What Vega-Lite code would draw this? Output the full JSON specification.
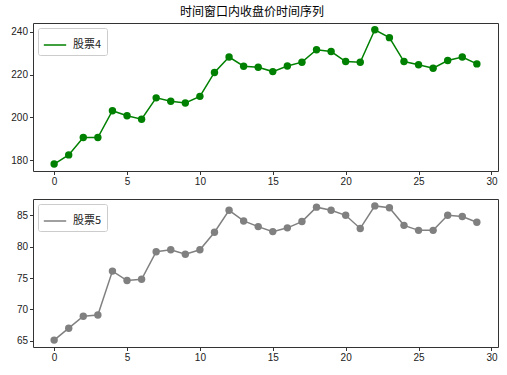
{
  "$schema": "https://vega.github.io/schema/vega-lite/v6.json",
  "padding": {"left": 5, "top": 5, "right": 8, "bottom": 2},
  "title": {"text": "时间窗口内收盘价时间序列", "fontSize": 12, "font": "Noto Sans CJK SC", "fontWeight": "normal", "color": "#000", "offset": 4, "anchor": "middle"},
  "config": {
    "font": "Noto Sans CJK SC",
    "view": {"stroke": "#333", "strokeWidth": 1},
    "axis": {"grid": false, "domain": false, "tickColor": "#333", "tickSize": 3.5, "labelFontSize": 10, "labelColor": "#222", "labelFont": "Liberation Sans", "title": null, "labelPadding": 2, "labelOverlap": false, "labelFlush": false},
    "axisY": {"minExtent": 27, "maxExtent": 27},
    "legend": {"orient": "top-left", "offset": 5, "padding": 5, "strokeColor": "#ccc", "fillColor": "#fff", "cornerRadius": 2, "symbolType": "stroke", "symbolSize": 500, "symbolStrokeWidth": 1.5, "labelFontSize": 11, "labelColor": "#222", "title": null, "labelOffset": 6}
  },
  "datasets": {
    "s4": [
      {"t": 0, "v": 178.1, "s": "股票4"}, {"t": 1, "v": 182.4, "s": "股票4"}, {"t": 2, "v": 190.5, "s": "股票4"}, {"t": 3, "v": 190.5, "s": "股票4"},
      {"t": 4, "v": 203.1, "s": "股票4"}, {"t": 5, "v": 200.7, "s": "股票4"}, {"t": 6, "v": 199.1, "s": "股票4"}, {"t": 7, "v": 209.1, "s": "股票4"},
      {"t": 8, "v": 207.5, "s": "股票4"}, {"t": 9, "v": 206.7, "s": "股票4"}, {"t": 10, "v": 209.8, "s": "股票4"}, {"t": 11, "v": 221.0, "s": "股票4"},
      {"t": 12, "v": 228.2, "s": "股票4"}, {"t": 13, "v": 223.9, "s": "股票4"}, {"t": 14, "v": 223.4, "s": "股票4"}, {"t": 15, "v": 221.4, "s": "股票4"},
      {"t": 16, "v": 224.0, "s": "股票4"}, {"t": 17, "v": 225.8, "s": "股票4"}, {"t": 18, "v": 231.6, "s": "股票4"}, {"t": 19, "v": 230.8, "s": "股票4"},
      {"t": 20, "v": 226.1, "s": "股票4"}, {"t": 21, "v": 225.8, "s": "股票4"}, {"t": 22, "v": 241.0, "s": "股票4"}, {"t": 23, "v": 237.3, "s": "股票4"},
      {"t": 24, "v": 226.1, "s": "股票4"}, {"t": 25, "v": 224.6, "s": "股票4"}, {"t": 26, "v": 223.0, "s": "股票4"}, {"t": 27, "v": 226.6, "s": "股票4"},
      {"t": 28, "v": 228.2, "s": "股票4"}, {"t": 29, "v": 225.0, "s": "股票4"}
    ],
    "s5": [
      {"t": 0, "v": 65.1, "s": "股票5"}, {"t": 1, "v": 67.0, "s": "股票5"}, {"t": 2, "v": 68.9, "s": "股票5"}, {"t": 3, "v": 69.1, "s": "股票5"},
      {"t": 4, "v": 76.1, "s": "股票5"}, {"t": 5, "v": 74.6, "s": "股票5"}, {"t": 6, "v": 74.8, "s": "股票5"}, {"t": 7, "v": 79.2, "s": "股票5"},
      {"t": 8, "v": 79.5, "s": "股票5"}, {"t": 9, "v": 78.8, "s": "股票5"}, {"t": 10, "v": 79.5, "s": "股票5"}, {"t": 11, "v": 82.3, "s": "股票5"},
      {"t": 12, "v": 85.8, "s": "股票5"}, {"t": 13, "v": 84.1, "s": "股票5"}, {"t": 14, "v": 83.2, "s": "股票5"}, {"t": 15, "v": 82.4, "s": "股票5"},
      {"t": 16, "v": 83.0, "s": "股票5"}, {"t": 17, "v": 84.0, "s": "股票5"}, {"t": 18, "v": 86.3, "s": "股票5"}, {"t": 19, "v": 85.8, "s": "股票5"},
      {"t": 20, "v": 85.0, "s": "股票5"}, {"t": 21, "v": 82.9, "s": "股票5"}, {"t": 22, "v": 86.5, "s": "股票5"}, {"t": 23, "v": 86.2, "s": "股票5"},
      {"t": 24, "v": 83.4, "s": "股票5"}, {"t": 25, "v": 82.6, "s": "股票5"}, {"t": 26, "v": 82.6, "s": "股票5"}, {"t": 27, "v": 85.0, "s": "股票5"},
      {"t": 28, "v": 84.8, "s": "股票5"}, {"t": 29, "v": 83.9, "s": "股票5"}
    ]
  },
  "resolve": {"scale": {"color": "independent"}, "legend": {"color": "independent"}},
  "spacing": 11,
  "vconcat": [
    {
      "width": 465, "height": 148,
      "data": {"name": "s4"},
      "encoding": {
        "x": {"field": "t", "type": "quantitative", "scale": {"domain": [-1.45, 30.45], "nice": false, "zero": false}, "axis": {"values": [0, 5, 10, 15, 20, 25, 30]}},
        "y": {"field": "v", "type": "quantitative", "scale": {"domain": [174.85, 244.15], "nice": false, "zero": false}, "axis": {"values": [180, 200, 220, 240]}}
      },
      "layer": [
        {"mark": {"type": "line", "strokeWidth": 1.5},
         "encoding": {
           "color": {"field": "s", "type": "nominal", "scale": {"domain": ["股票4"], "range": ["#008000"]}}
         }},
        {"mark": {"type": "point", "filled": true, "opacity": 1, "size": 55, "color": "#008000"},
         "encoding": {}}
      ]
    },
    {
      "width": 465, "height": 148,
      "data": {"name": "s5"},
      "encoding": {
        "x": {"field": "t", "type": "quantitative", "scale": {"domain": [-1.45, 30.45], "nice": false, "zero": false}, "axis": {"values": [0, 5, 10, 15, 20, 25, 30]}},
        "y": {"field": "v", "type": "quantitative", "scale": {"domain": [64.0, 87.6], "nice": false, "zero": false}, "axis": {"values": [65, 70, 75, 80, 85]}}
      },
      "layer": [
        {"mark": {"type": "line", "strokeWidth": 1.5},
         "encoding": {
           "color": {"field": "s", "type": "nominal", "scale": {"domain": ["股票5"], "range": ["#808080"]}}
         }},
        {"mark": {"type": "point", "filled": true, "opacity": 1, "size": 55, "color": "#808080"},
         "encoding": {}}
      ]
    }
  ]
}
